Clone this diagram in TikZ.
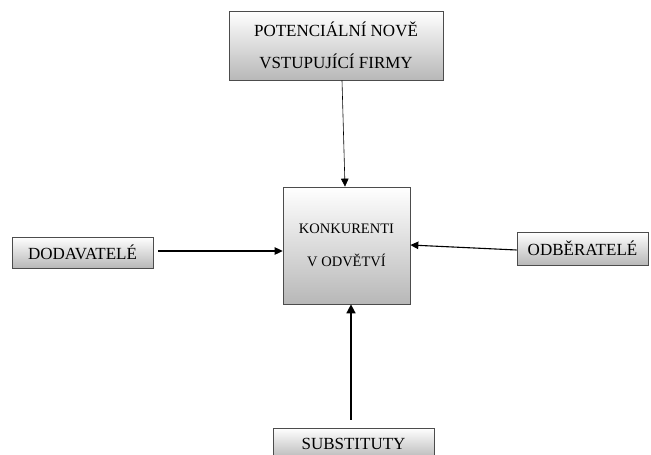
\documentclass[tikz,border=0pt]{standalone}
\usepackage{fontspec}
\setmainfont{Liberation Serif}
\usetikzlibrary{arrows.meta,shadows}
\begin{document}
\begin{tikzpicture}[x=1pt,y=1pt,
  boxstyle/.style={draw=black!70, line width=0.7pt, top color=white, bottom color=black!28,
    drop shadow={shadow xshift=1.2pt, shadow yshift=-1.2pt, opacity=0.35},
    inner sep=0pt, align=center, font=\fontsize{17}{32}\selectfont},
  arr/.style={-{Triangle[length=8pt,width=7.5pt]}, line width=0.8pt}]
\useasboundingbox[fill=white] (0,0) rectangle (651,-455);
\node[boxstyle, minimum width=214, minimum height=69] (top) at (336,-45.5) {POTENCIÁLNÍ NOVĚ\\VSTUPUJÍCÍ FIRMY};
\node[boxstyle, minimum width=127, minimum height=117, font=\fontsize{14.5}{33}\selectfont] (ctr) at (346.5,-245.5) {KONKURENTI\\V ODVĚTVÍ};
\node[boxstyle, minimum width=141, minimum height=31] (dod) at (82.5,-252.5) {DODAVATELÉ};
\node[boxstyle, minimum width=131, minimum height=33] (odb) at (582.5,-248.5) {ODBĚRATELÉ};
\node[boxstyle, minimum width=161, minimum height=31] (sub) at (353.5,-443.5) {SUBSTITUTY};
\draw[arr, line width=0.6pt] ([xshift=6pt]top.south) -- ([xshift=-1.5pt]ctr.north);
\draw[arr, line width=1.1pt] ([xshift=5pt,yshift=1.5pt]dod.east) -- ([yshift=-5.5pt]ctr.west);
\draw[arr, line width=1.1pt] ([yshift=-1.5pt]odb.west) -- ([yshift=0.5pt]ctr.east);
\draw[arr, line width=1.6pt, -{Triangle[length=9pt,width=9pt]}] ([xshift=-2.5pt,yshift=8pt]sub.north) -- ([xshift=4.5pt]ctr.south);
\end{tikzpicture}
\end{document}
